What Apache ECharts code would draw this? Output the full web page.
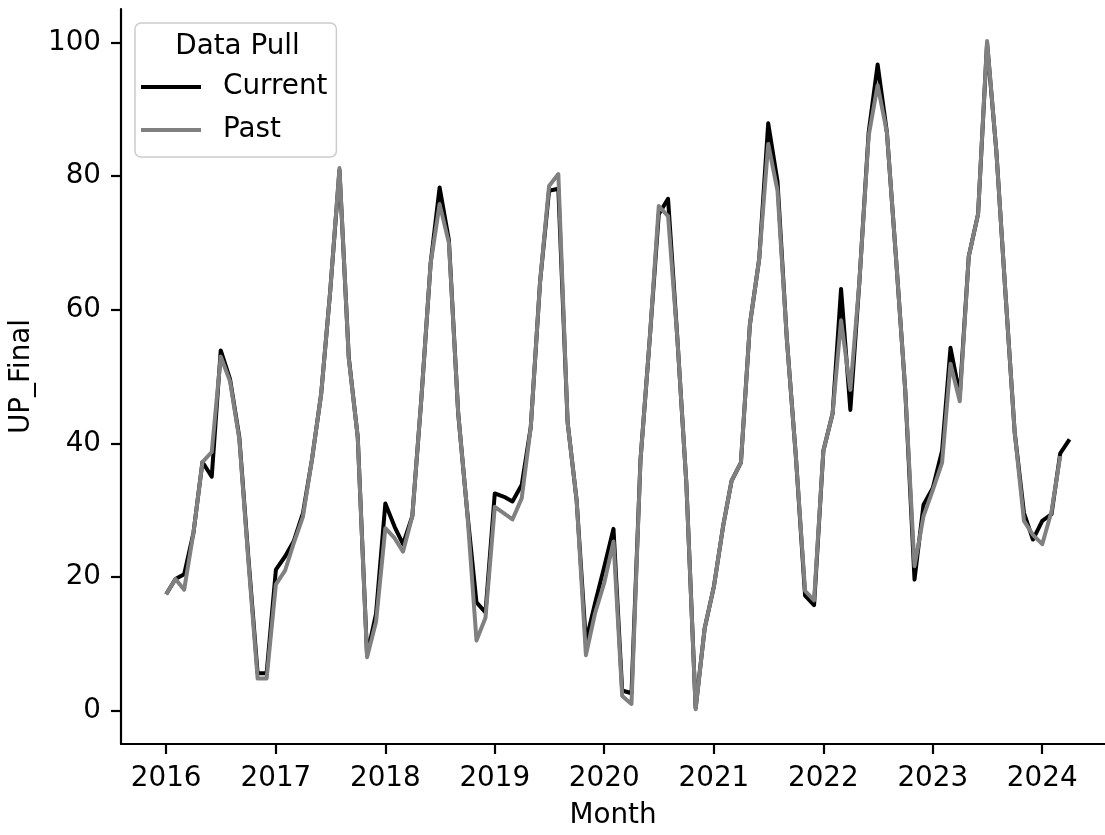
<!DOCTYPE html>
<html>
<head>
<meta charset="utf-8">
<script src="https://cdn.jsdelivr.net/npm/echarts@6/dist/echarts.min.js"></script>
<style>
  html, body { margin: 0; padding: 0; background: #ffffff; }
  #chart { width: 1105px; height: 835px; }
</style>
</head>
<body>
<div id="chart"></div>
<script>
// Monthly UP_Final values, starting January 2016
const startYear = 2016;
const startMonth = 1;

const current = [
  17.4, 19.7, 20.4, 26.6, 37.2, 35.0, 53.9, 49.6, 40.9, 23.0, 5.6, 5.6,
  21.1, 23.1, 25.3, 29.5, 37.5, 47.4, 62.7, 80.9, 52.9, 40.9, 8.3, 14.5,
  31.0, 27.5, 24.9, 29.1, 46.6, 66.9, 78.3, 70.4, 44.5, 29.8, 16.2, 14.7,
  32.5, 32.0, 31.3, 33.8, 42.4, 64.1, 77.8, 78.1, 43.1, 31.5, 10.3, 16.0,
  21.5, 27.2, 3.0, 2.6, 37.5, 55.7, 74.3, 76.6, 55.7, 34.0, 0.4, 12.3,
  18.6, 27.7, 34.4, 37.1, 57.8, 67.6, 87.9, 79.2, 55.7, 38.2, 17.2, 15.8,
  38.9, 44.5, 63.1, 45.0, 64.1, 86.5, 96.7, 86.5, 67.3, 48.0, 19.6, 30.8,
  33.3, 38.9, 54.3, 47.2, 68.0, 74.3, 99.9, 83.7, 62.0, 41.7, 29.6, 25.6,
  28.4, 29.4, 38.5, 40.6
];

const past = [
  17.4, 19.7, 18.1, 26.6, 37.2, 38.7, 53.0, 49.3, 40.6, 22.5, 4.8, 4.8,
  18.9, 21.0, 25.0, 29.0, 37.5, 47.4, 62.7, 81.2, 52.7, 40.9, 8.0, 13.3,
  27.3, 25.8, 23.8, 29.1, 46.6, 66.9, 75.8, 70.0, 44.5, 29.8, 10.5, 13.9,
  30.5, 29.5, 28.6, 31.8, 42.4, 64.1, 78.5, 80.3, 43.1, 31.5, 8.3, 14.5,
  19.1, 25.3, 2.2, 1.0, 37.5, 55.7, 75.5, 74.0, 55.7, 34.0, 0.2, 12.3,
  18.6, 27.7, 34.4, 37.1, 57.8, 67.6, 84.8, 77.8, 55.7, 38.2, 17.9, 16.5,
  38.9, 44.5, 58.4, 48.0, 64.1, 86.0, 93.6, 86.5, 67.3, 48.0, 21.6, 29.1,
  33.0, 37.1, 51.9, 46.3, 68.0, 74.3, 100.2, 83.7, 62.0, 41.7, 28.4, 26.3,
  24.9, 29.8, 38.1
];

const seriesNames = ['Current', 'Past'];
const legendTitle = 'Data Pull';
const xTitle = 'Month';
const yTitle = 'UP_Final';
const yearTicks = ['2016', '2017', '2018', '2019', '2020', '2021', '2022', '2023', '2024'];
const yTicks = [0, 20, 40, 60, 80, 100];

// Month timestamps (first day of each month, UTC)
const months = [];
for (let k = 0; k < current.length; k++) {
  const m = startMonth - 1 + k;
  months.push(Date.UTC(startYear + Math.floor(m / 12), m % 12, 1));
}
const yearStamps = yearTicks.map(y => Date.UTC(+y, 0, 1));

const FONT = 'DejaVu Sans';
const FS = 27.8;
const INK = '#000000';

const chart = echarts.init(document.getElementById('chart'), null, { renderer: 'canvas' });

chart.setOption({
  animation: false,
  backgroundColor: '#ffffff',
  textStyle: { fontFamily: FONT },
  grid: { left: 120, right: 0, top: 9, bottom: 86, containLabel: false },
  xAxis: {
    // linear axis in milliseconds, one tick per January
    type: 'value',
    min: Date.UTC(2015, 7, 3, 8),
    max: Date.UTC(2024, 6, 28, 8),
    name: xTitle,
    nameLocation: 'middle',
    nameGap: 58,
    nameTextStyle: { fontFamily: FONT, fontSize: FS, color: INK },
    axisLine: { show: true, onZero: false, lineStyle: { color: INK, width: 2.2 } },
    axisTick: { show: true, length: 10, lineStyle: { color: INK, width: 2.2 }, customValues: yearStamps },
    axisLabel: {
      show: true, margin: 21, fontFamily: FONT, fontSize: FS, color: INK,
      customValues: yearStamps,
      formatter: v => String(new Date(v).getUTCFullYear())
    },
    splitLine: { show: false },
    minorTick: { show: false }
  },
  yAxis: {
    type: 'value',
    min: -5,
    max: 105,
    name: yTitle,
    nameLocation: 'middle',
    nameGap: 85,
    nameRotate: 90,
    nameTextStyle: { fontFamily: FONT, fontSize: FS, color: INK },
    axisLine: { show: true, onZero: false, lineStyle: { color: INK, width: 2.2 } },
    axisTick: { show: true, length: 10, lineStyle: { color: INK, width: 2.2 }, customValues: yTicks },
    axisLabel: { show: true, margin: 20, fontFamily: FONT, fontSize: FS, color: INK, customValues: yTicks },
    splitLine: { show: false }
  },
  legend: {
    orient: 'vertical',
    left: 135,
    top: 23,
    padding: [48, 9, 11, 6],
    itemGap: 11,
    itemWidth: 60,
    itemHeight: 4,
    icon: 'rect',
    selectedMode: false,
    backgroundColor: 'rgba(255,255,255,0.8)',
    borderColor: '#cccccc',
    borderWidth: 1.5,
    borderRadius: 6,
    textStyle: { fontFamily: FONT, fontSize: FS, color: INK, lineHeight: 32, padding: [0, 0, 0, 17] },
    data: seriesNames
  },
  graphic: [{
    type: 'text',
    x: 237.5,
    y: 47,
    z: 100,
    style: {
      text: legendTitle,
      fontFamily: FONT, fontSize: FS, fill: INK,
      align: 'center', verticalAlign: 'middle'
    }
  }],
  series: [
    {
      name: seriesNames[0],
      type: 'line',
      data: current.map((v, i) => [months[i], v]),
      showSymbol: false,
      symbol: 'none',
      color: '#000000',
      lineStyle: { color: '#000000', width: 4, join: 'round', cap: 'butt' },
      emphasis: { disabled: true },
      z: 2
    },
    {
      name: seriesNames[1],
      type: 'line',
      data: past.map((v, i) => [months[i], v]),
      showSymbol: false,
      symbol: 'none',
      color: '#808080',
      lineStyle: { color: '#808080', width: 4, join: 'round', cap: 'butt' },
      emphasis: { disabled: true },
      z: 3
    }
  ]
});
</script>
</body>
</html>
